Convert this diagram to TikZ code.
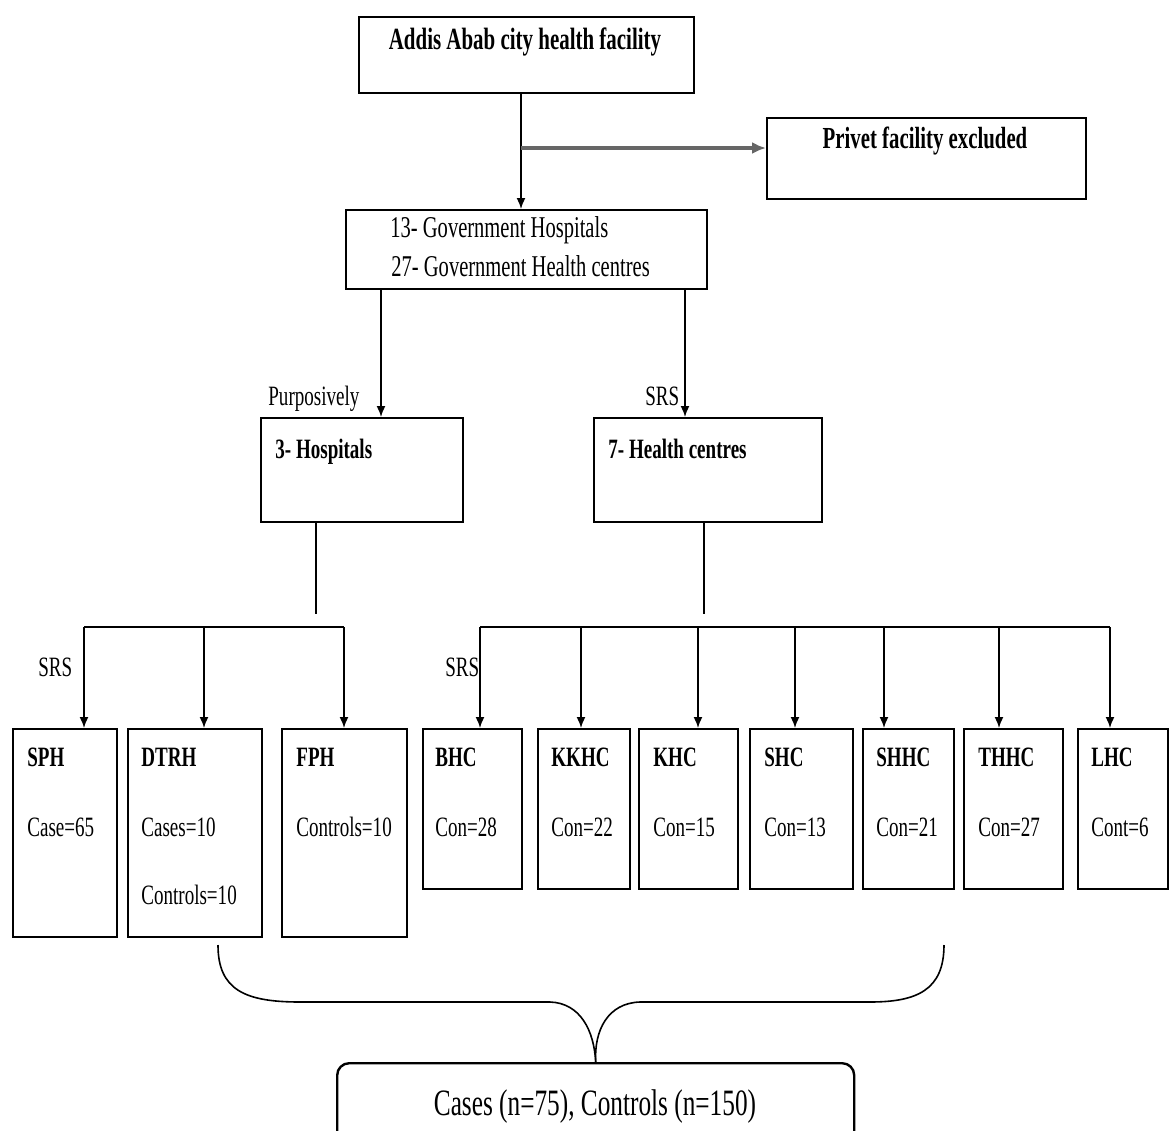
\documentclass[tikz,border=0pt]{standalone}
\usepackage{fontspec}
\setmainfont{Liberation Serif}[FakeStretch=0.68]
\usetikzlibrary{arrows.meta}

\tikzset{
  box/.style={draw, line width=1.2pt, anchor=north west, inner sep=0pt},
  txt/.style={anchor=base west, inner sep=0pt, font=\fontsize{14}{17}\selectfont},
  bold/.style={anchor=base west, inner sep=0pt, font=\bfseries\fontsize{14}{17}\selectfont},
  arr/.style={draw, line width=0.8pt, -{Latex[length=5.5pt,width=4.5pt]}},
  bar/.style={draw, line width=1.2pt},
}

\begin{document}
\begin{tikzpicture}[x=0.5pt,y=-0.5pt]
\useasboundingbox (0,0) rectangle (1169,1131);

% top part
\node[box, minimum width=167.5pt, minimum height=38pt] (city) at (358,16) {};
\node[bold, anchor=base, font=\bfseries\fontsize{15.4}{18}\selectfont] (citytxt) at (525,49) {Addis Abab city health facility};
\node[box, minimum width=159.5pt, minimum height=40.5pt] (privet) at (766,117) {};
\node[bold, anchor=base, font=\bfseries\fontsize{15.3}{18}\selectfont] (privettxt) at (925,148) {Privet facility excluded};
\node[box, minimum width=180.5pt, minimum height=39.5pt] (gov) at (345,209) {};
\node[txt, font=\fontsize{15.1}{18}\selectfont] (govtxt1) at (390,237) {13- Government Hospitals};
\node[txt, font=\fontsize{15.1}{18}\selectfont] (govtxt2) at (391,276) {27- Government Health centres};

\coordinate (split) at (521,148);
\draw[arr] (city.south -| split) -- (gov.north -| split);
\draw[arr, line width=1.6pt, black!60, -{Latex[length=7pt,width=6pt]}] (split) -- (privet.west |- split);

% hospitals and health centres
\node[box, minimum width=101pt, minimum height=52pt] (hosp) at (260,417) {};
\node[bold] (hosptxt) at (275,458) {3- Hospitals};
\node[box, minimum width=114pt, minimum height=52pt] (hc) at (593,417) {};
\node[bold] (hctxt) at (608,458) {7- Health centres};
\node[txt] (purp) at (268,405) {Purposively};
\node[txt] (srs1) at (645,405) {SRS};

\coordinate (ph) at (381,417);
\coordinate (pc) at (685,417);
\draw[arr] (gov.south -| ph) -- (ph);
\draw[arr] (gov.south -| pc) -- (pc);

% bottom boxes
\node[box, minimum width=52pt, minimum height=104pt] (sph) at (12,728) {};
\node[box, minimum width=67pt, minimum height=104pt] (dtrh) at (127,728) {};
\node[box, minimum width=62.5pt, minimum height=104pt] (fph) at (281,728) {};
\node[box, minimum width=49.5pt, minimum height=80pt] (bhc) at (422,728) {};
\node[box, minimum width=46pt, minimum height=80pt] (kkhc) at (537,728) {};
\node[box, minimum width=49.5pt, minimum height=80pt] (khc) at (638,728) {};
\node[box, minimum width=51.5pt, minimum height=80pt] (shc) at (749,728) {};
\node[box, minimum width=45.5pt, minimum height=80pt] (shhc) at (862,728) {};
\node[box, minimum width=49.5pt, minimum height=80pt] (thhc) at (963,728) {};
\node[box, minimum width=45pt, minimum height=80pt] (lhc) at (1077,728) {};

\node[bold] (sphtxt) at (27,766) {SPH};
\node[txt] (sphn) at (27,836) {Case=65};
\node[bold] (dtrhtxt) at (141,766) {DTRH};
\node[txt] (dtrhn) at (141,836) {Cases=10};
\node[txt] (dtrhm) at (141,904) {Controls=10};
\node[bold] (fphtxt) at (296,766) {FPH};
\node[txt] (fphn) at (296,836) {Controls=10};
\node[bold] (bhctxt) at (435,766) {BHC};
\node[txt] (bhcn) at (435,836) {Con=28};
\node[bold] (kkhctxt) at (551,766) {KKHC};
\node[txt] (kkhcn) at (551,836) {Con=22};
\node[bold] (khctxt) at (653,766) {KHC};
\node[txt] (khcn) at (653,836) {Con=15};
\node[bold] (shctxt) at (764,766) {SHC};
\node[txt] (shcn) at (764,836) {Con=13};
\node[bold] (shhctxt) at (876,766) {SHHC};
\node[txt] (shhcn) at (876,836) {Con=21};
\node[bold] (thhctxt) at (978,766) {THHC};
\node[txt] (thhcn) at (978,836) {Con=27};
\node[bold] (lhctxt) at (1091,766) {LHC};
\node[txt] (lhcn) at (1091,836) {Cont=6};

\node[txt] (srs2) at (38,676) {SRS};
\node[txt] (srs3) at (445,676) {SRS};

% hospital branch
\coordinate (hstop) at (316,614);
\coordinate (h1) at (84,627);
\coordinate (h2) at (204,627);
\coordinate (h3) at (344,627);
\draw[bar] (hosp.south -| hstop) -- (hstop);
\draw[bar] (h1) -- (h3);
\draw[arr] (h1) -- (h1 |- sph.north);
\draw[arr] (h2) -- (h2 |- dtrh.north);
\draw[arr] (h3) -- (h3 |- fph.north);

% health centre branch
\coordinate (cstop) at (704,614);
\coordinate (c1) at (480,627);
\coordinate (c2) at (581,627);
\coordinate (c3) at (698,627);
\coordinate (c4) at (795,627);
\coordinate (c5) at (884,627);
\coordinate (c6) at (999,627);
\coordinate (c7) at (1110,627);
\draw[bar] (hc.south -| cstop) -- (cstop);
\draw[bar] (c1) -- (c7);
\draw[arr] (c1) -- (c1 |- bhc.north);
\draw[arr] (c2) -- (c2 |- kkhc.north);
\draw[arr] (c3) -- (c3 |- khc.north);
\draw[arr] (c4) -- (c4 |- shc.north);
\draw[arr] (c5) -- (c5 |- shhc.north);
\draw[arr] (c6) -- (c6 |- thhc.north);
\draw[arr] (c7) -- (c7 |- lhc.north);

% total
\node[box, rounded corners=6pt, minimum width=258.5pt, minimum height=45pt] (total) at (336,1062) {};
\node[txt, anchor=base, font=\fontsize{18.6}{22}\selectfont] (totaltxt) at (595,1115) {Cases (n=75), Controls (n=150)};

\coordinate (bl) at (218,945);
\coordinate (br) at (944,945);
\draw[line width=0.8pt] (bl) .. controls (218,990) and (245,1002) .. (300,1002) -- (550,1002) .. controls (580,1003) and (594,1030) .. (total.north);
\draw[line width=0.8pt] (br) .. controls (944,990) and (917,1002) .. (870,1002) -- (640,1002) .. controls (608,1003) and (594,1030) .. (total.north);
\end{tikzpicture}
\end{document}
